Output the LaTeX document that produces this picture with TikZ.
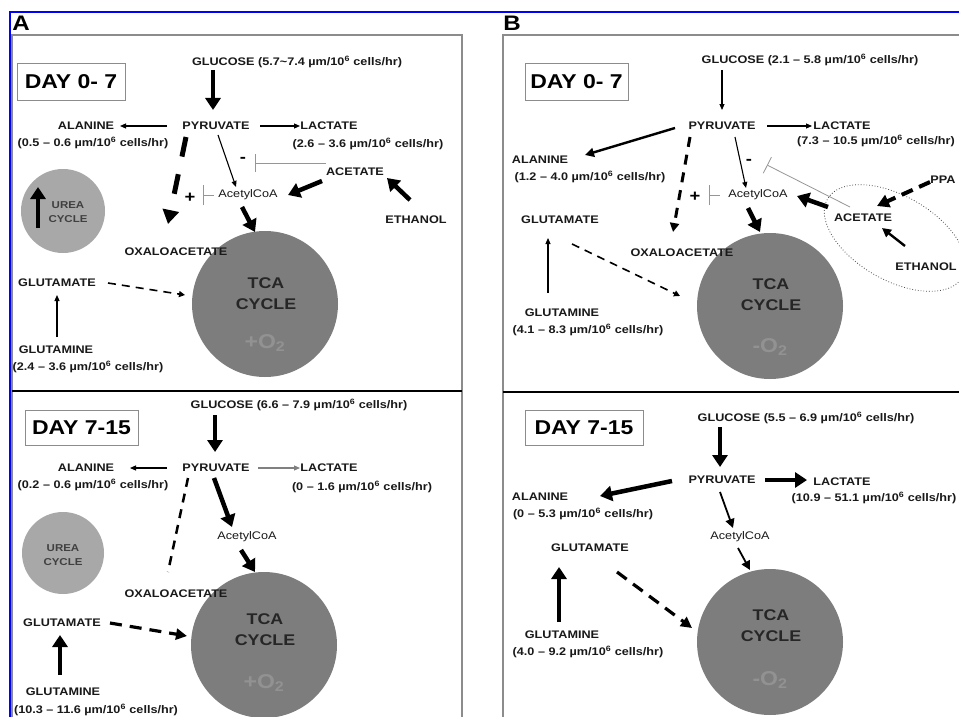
\documentclass[tikz,border=0pt]{standalone}
\usepackage{fontspec}
\newfontfamily\lf{Liberation Sans}[FakeStretch=1.15]
\usetikzlibrary{arrows.meta,calc,shapes.geometric}
\definecolor{tcag}{RGB}{125,125,125}
\definecolor{ureag}{RGB}{168,168,168}
\definecolor{frameg}{RGB}{140,140,140}
\definecolor{o2g}{RGB}{146,146,146}
\definecolor{inhg}{RGB}{150,150,150}
\definecolor{selblue}{RGB}{0,0,255}
\begin{document}
\begin{tikzpicture}[x=1pt,y=-1pt,
 lbl/.style={inner sep=0pt, font=\lf\bfseries\fontsize{11}{12}\selectfont, text=black!90},
 daybox/.style={draw=frameg, line width=0.8pt, inner sep=0pt, font=\lf\bfseries\fontsize{20}{24}\selectfont},
 tcac/.style={circle, fill=tcag, inner sep=0pt, minimum size=146pt},
 ureac/.style={circle, fill=ureag, inner sep=0pt, minimum size=84pt},
 tcat/.style={inner sep=0pt, align=center, font=\lf\bfseries\fontsize{15.5}{21}\selectfont, text=black!85},
 otwo/.style={inner sep=0pt, font=\lf\bfseries\fontsize{20}{22}\selectfont, text=o2g},
 ureat/.style={inner sep=0pt, align=center, font=\lf\bfseries\fontsize{10}{14}\selectfont, text=black!75},
 sgn/.style={inner sep=0pt, font=\lf\bfseries\fontsize{16}{16}\selectfont},
 panel/.style={font=\lf\bfseries\fontsize{21}{21}\selectfont, inner sep=0pt},
 thinarr/.style={line width=1.1pt, -{Triangle[length=6pt,width=5pt]}},
 midarr/.style={line width=2.4pt, -{Triangle[length=9pt,width=9pt]}},
 thickarr/.style={line width=4.5pt, -{Triangle[length=12pt,width=15pt]}},
 inh/.style={draw=inhg, line width=0.8pt, -{Bar[width=18pt]}},
 bigdash/.style={line width=5pt, dash pattern=on 20pt off 18pt, -{Triangle[length=14pt,width=16pt]}},
 middash/.style={line width=3pt, dash pattern=on 10pt off 8pt, -{Triangle[length=9pt,width=9pt]}},
 thindash/.style={line width=1.6pt, dash pattern=on 8pt off 6pt, -{Triangle[length=6pt,width=6pt]}},
 thickdash/.style={line width=3.2pt, dash pattern=on 12pt off 8pt, -{Triangle[length=11pt,width=11pt]}},
]
\useasboundingbox (0,0) rectangle (959,717);
\fill[white] (0,0) rectangle (959,717);
% selection frame
\draw[selblue, line width=2pt] (10,717) -- (10,12) -- (959,12);
% panel frames
\draw[frameg, line width=1.2pt] (12,35) rectangle (462,725);
\draw[frameg, line width=1.2pt] (503,725) -- (503,35) -- (965,35);
\draw[black, line width=2.5pt] (12,391) -- (462,391);
\draw[black, line width=2.5pt] (503,392) -- (959,392);
\node[panel] (pA) at (21,23) {A};
\node[panel] (pB) at (512,23) {B};

% ================= A top =================
\node[tcac] (tcaA1) at (265,304) {};
\node[ureac] (ureaA1) at (63,211) {};
\node[tcat] (tcaA1t) at (266,294) {TCA\\CYCLE};
\node[otwo] (o2A1) at (265,343) {+O\textsubscript{2}};
\node[ureat] (ureaA1t) at (68,212) {UREA\\CYCLE};
\node[daybox, minimum width=108pt, minimum height=37pt] (dayA1) at (71,81.5) {DAY 0- 7};
\node[lbl] (glcA1) at (297,62) {GLUCOSE (5.7\textasciitilde7.4 µm/10\textsuperscript{6} cells/hr)};
\node[lbl] (pyrA1) at (216,126) {PYRUVATE};
\node[lbl] (alaA1) at (86,126) {ALANINE};
\node[lbl] (alaA1r) at (93,143) {(0.5 – 0.6 µm/10\textsuperscript{6} cells/hr)};
\node[lbl] (lacA1) at (329,126) {LACTATE};
\node[lbl] (lacA1r) at (368,144) {(2.6 – 3.6 µm/10\textsuperscript{6} cells/hr)};
\node[lbl] (aceA1) at (355,172) {ACETATE};
\node[lbl] (acoA1) at (248,195) {\mdseries AcetylCoA};
\node[lbl] (ethA1) at (416,220) {ETHANOL};
\node[lbl] (oxaA1) at (176,252) {OXALOACETATE};
\node[lbl] (gluA1) at (57,283) {GLUTAMATE};
\node[lbl] (glnA1) at (56,350) {GLUTAMINE};
\node[lbl] (glnA1r) at (88,367) {(2.4 – 3.6 µm/10\textsuperscript{6} cells/hr)};
\node[sgn] (plusA1) at (190,198) {+};
\node[sgn] (minusA1) at (243,160) {-};
\coordinate (barA1) at (255,163);

\draw[thickarr] ($(glcA1)+(-84,8)$) -- ($(pyrA1)+(-3,-16)$);
\draw[thinarr] ($(pyrA1)+(-49,0)$) -- ($(alaA1)+(34,0)$);
\draw[thinarr] ($(pyrA1)+(44,0)$) -- ($(lacA1)+(-29,0)$);
\draw[bigdash] ($(pyrA1)+(-30,11)$) -- ($(oxaA1)+(-8,-28)$);
\draw[thinarr] ($(pyrA1)+(2,9)$) -- ($(acoA1)+(-12,-8)$);
\draw[inh, -{Bar[width=20pt]}] ($(acoA1)+(-34,0)$) -- ($(acoA1)+(-45,0)$);
\draw[inh] (barA1 -| aceA1.west) -- (barA1);
\draw[thickarr] ($(aceA1)+(-33,9)$) -- ($(acoA1)+(40,0)$);
\draw[thickarr] ($(ethA1)+(-6,-20)$) -- ($(aceA1)+(32,6)$);
\draw[thickarr] ($(acoA1)+(-6,12)$) -- ($(tcaA1)+(-10,-72)$);
\draw[thindash] ($(gluA1)+(51,0)$) -- ($(tcaA1)+(-80,-9)$);
\draw[thinarr] ($(glnA1)+(1,-13)$) -- ($(gluA1)+(0,12)$);
\draw[thickarr] ($(ureaA1)+(-25,17)$) -- ($(ureaA1)+(-25,-24)$);

% ================= A bottom =================
\node[tcac] (tcaA2) at (264,645) {};
\node[ureac, minimum size=82pt] (ureaA2) at (63,553) {};
\node[tcat] (tcaA2t) at (265,630) {TCA\\CYCLE};
\node[otwo] (o2A2) at (264,683) {+O\textsubscript{2}};
\node[ureat] (ureaA2t) at (63,555) {UREA\\CYCLE};
\node[daybox, minimum width=113pt, minimum height=35pt] (dayA2) at (81.5,427.5) {DAY 7-15};
\node[lbl] (glcA2) at (299,405) {GLUCOSE (6.6 – 7.9 µm/10\textsuperscript{6} cells/hr)};
\node[lbl] (pyrA2) at (216,468) {PYRUVATE};
\node[lbl] (alaA2) at (86,468) {ALANINE};
\node[lbl] (alaA2r) at (93,485) {(0.2 – 0.6 µm/10\textsuperscript{6} cells/hr)};
\node[lbl] (lacA2) at (329,468) {LACTATE};
\node[lbl] (lacA2r) at (362,487) {(0 – 1.6 µm/10\textsuperscript{6} cells/hr)};
\node[lbl] (acoA2) at (247,537) {\mdseries AcetylCoA};
\node[lbl] (oxaA2) at (176,594) {OXALOACETATE};
\node[lbl] (gluA2) at (62,623) {GLUTAMATE};
\node[lbl] (glnA2) at (63,692) {GLUTAMINE};
\node[lbl] (glnA2r) at (96,710) {(10.3 – 11.6 µm/10\textsuperscript{6} cells/hr)};

\draw[thickarr] ($(glcA2)+(-84,10)$) -- ($(pyrA2)+(-1,-16)$);
\draw[thinarr] ($(pyrA2)+(-49,0)$) -- ($(alaA2)+(44,0)$);
\draw[thinarr, draw=gray] ($(pyrA2)+(42,0)$) -- ($(lacA2)+(-29,0)$);
\draw[thickarr] ($(pyrA2)+(-2,10)$) -- ($(acoA2)+(-15,-10)$);
\draw[thickarr] ($(acoA2)+(-6,13)$) -- ($(tcaA2)+(-9,-73)$);
\draw[line width=2.5pt, dash pattern=on 9pt off 7pt] ($(pyrA2)+(-28,10)$) -- ($(oxaA2)+(-8,-22)$);
\draw[thickdash] ($(gluA2)+(48,0)$) -- ($(tcaA2)+(-77,-9)$);
\draw[thickarr] ($(glnA2)+(-3,-17)$) -- ($(gluA2)+(-2,12)$);

% ================= B top =================
\node[tcac] (tcaB1) at (770,306) {};
\node[tcat] (tcaB1t) at (771,295) {TCA\\CYCLE};
\node[otwo] (o2B1) at (770,347) {-O\textsubscript{2}};
\node[ellipse, draw=black!70, dotted, line width=0.8pt, minimum width=156pt, minimum height=84pt, rotate=-30] (ellB1) at (895,238) {};
\node[daybox, minimum width=103pt, minimum height=37pt] (dayB1) at (576.5,81.5) {DAY 0- 7};
\node[lbl] (glcB1) at (810,60) {GLUCOSE (2.1 – 5.8 µm/10\textsuperscript{6} cells/hr)};
\node[lbl] (pyrB1) at (722,126) {PYRUVATE};
\node[lbl] (lacB1) at (842,126) {LACTATE};
\node[lbl] (lacB1r) at (876,141) {(7.3 – 10.5 µm/10\textsuperscript{6} cells/hr)};
\node[lbl] (alaB1) at (540,160) {ALANINE};
\node[lbl] (alaB1r) at (590,177) {(1.2 – 4.0 µm/10\textsuperscript{6} cells/hr)};
\node[lbl] (acoB1) at (758,195) {\mdseries AcetylCoA};
\node[lbl] (aceB1) at (863,218) {ACETATE};
\node[lbl] (ethB1) at (926,267) {ETHANOL};
\node[lbl] (ppaB1) at (943,180) {PPA};
\node[lbl] (gluB1) at (560,220) {GLUTAMATE};
\node[lbl] (oxaB1) at (682,253) {OXALOACETATE};
\node[lbl] (glnB1) at (562,313) {GLUTAMINE};
\node[lbl] (glnB1r) at (588,330) {(4.1 – 8.3 µm/10\textsuperscript{6} cells/hr)};
\node[sgn] (plusB1) at (695,197) {+};
\node[sgn] (minusB1) at (749,162) {-};
\coordinate (barB1) at (767,165);

\draw[thinarr] ($(glcB1)+(-88,10)$) -- ($(pyrB1)+(0,-16)$);
\draw[midarr] ($(pyrB1)+(-47,2)$) -- ($(alaB1)+(45,-5)$);
\draw[thinarr] ($(pyrB1)+(45,0)$) -- ($(lacB1)+(-30,0)$);
\draw[middash] ($(pyrB1)+(-32,11)$) -- ($(oxaB1)+(-9,-21)$);
\draw[thinarr] ($(pyrB1)+(13,11)$) -- ($(acoB1)+(-12,-7)$);
\draw[inh, -{Bar[width=20pt]}] ($(acoB1)+(-38,0)$) -- ($(acoB1)+(-49,0)$);
\draw[inh] ($(aceB1)+(-13,-11)$) -- (barB1);
\draw[thickarr] ($(aceB1)+(-35,-11)$) -- ($(acoB1)+(39,1)$);
\draw[midarr] ($(ethB1)+(-21,-21)$) -- ($(aceB1)+(19,10)$);
\draw[line width=4pt, dash pattern=on 12pt off 7pt, -{Triangle[length=12pt,width=13pt]}] ($(ppaB1)+(-13,2)$) -- ($(aceB1)+(14,-12)$);
\draw[thickarr] ($(acoB1)+(-10,13)$) -- ($(tcaB1)+(-10,-74)$);
\draw[thindash] ($(gluB1)+(12,24)$) -- ($(tcaB1)+(-90,-10)$);
\draw[thinarr] ($(glnB1)+(-14,-20)$) -- ($(gluB1)+(-12,18)$);

% ================= B bottom =================
\node[tcac] (tcaB2) at (770,642) {};
\node[tcat] (tcaB2t) at (771,626) {TCA\\CYCLE};
\node[otwo] (o2B2) at (770,680) {-O\textsubscript{2}};
\node[daybox, minimum width=118pt, minimum height=35pt] (dayB2) at (584,427.5) {DAY 7-15};
\node[lbl] (glcB2) at (806,418) {GLUCOSE (5.5 – 6.9 µm/10\textsuperscript{6} cells/hr)};
\node[lbl] (pyrB2) at (722,480) {PYRUVATE};
\node[lbl] (lacB2) at (842,482) {LACTATE};
\node[lbl] (lacB2r) at (874,498) {(10.9 – 51.1 µm/10\textsuperscript{6} cells/hr)};
\node[lbl] (alaB2) at (540,497) {ALANINE};
\node[lbl] (alaB2r) at (583,514) {(0 – 5.3 µm/10\textsuperscript{6} cells/hr)};
\node[lbl] (acoB2) at (740,537) {\mdseries AcetylCoA};
\node[lbl] (gluB2) at (590,548) {GLUTAMATE};
\node[lbl] (glnB2) at (562,635) {GLUTAMINE};
\node[lbl] (glnB2r) at (588,652) {(4.0 – 9.2 µm/10\textsuperscript{6} cells/hr)};

\draw[thickarr] ($(glcB2)+(-86,9)$) -- ($(pyrB2)+(-2,-13)$);
\draw[thickarr] ($(pyrB2)+(43,0)$) -- ($(lacB2)+(-35,-2)$);
\draw[thickarr] ($(pyrB2)+(-50,1)$) -- ($(alaB2)+(60,-1)$);
\draw[midarr, line width=1.8pt] ($(pyrB2)+(-2,12)$) -- ($(acoB2)+(-7,-9)$);
\draw[midarr, line width=1.8pt] ($(acoB2)+(-2,11)$) -- ($(tcaB2)+(-20,-72)$);
\draw[thickdash] ($(gluB2)+(27,24)$) -- ($(tcaB2)+(-78,-14)$);
\draw[thickarr] ($(glnB2)+(-3,-13)$) -- ($(gluB2)+(-31,19)$);
\end{tikzpicture}
\end{document}
